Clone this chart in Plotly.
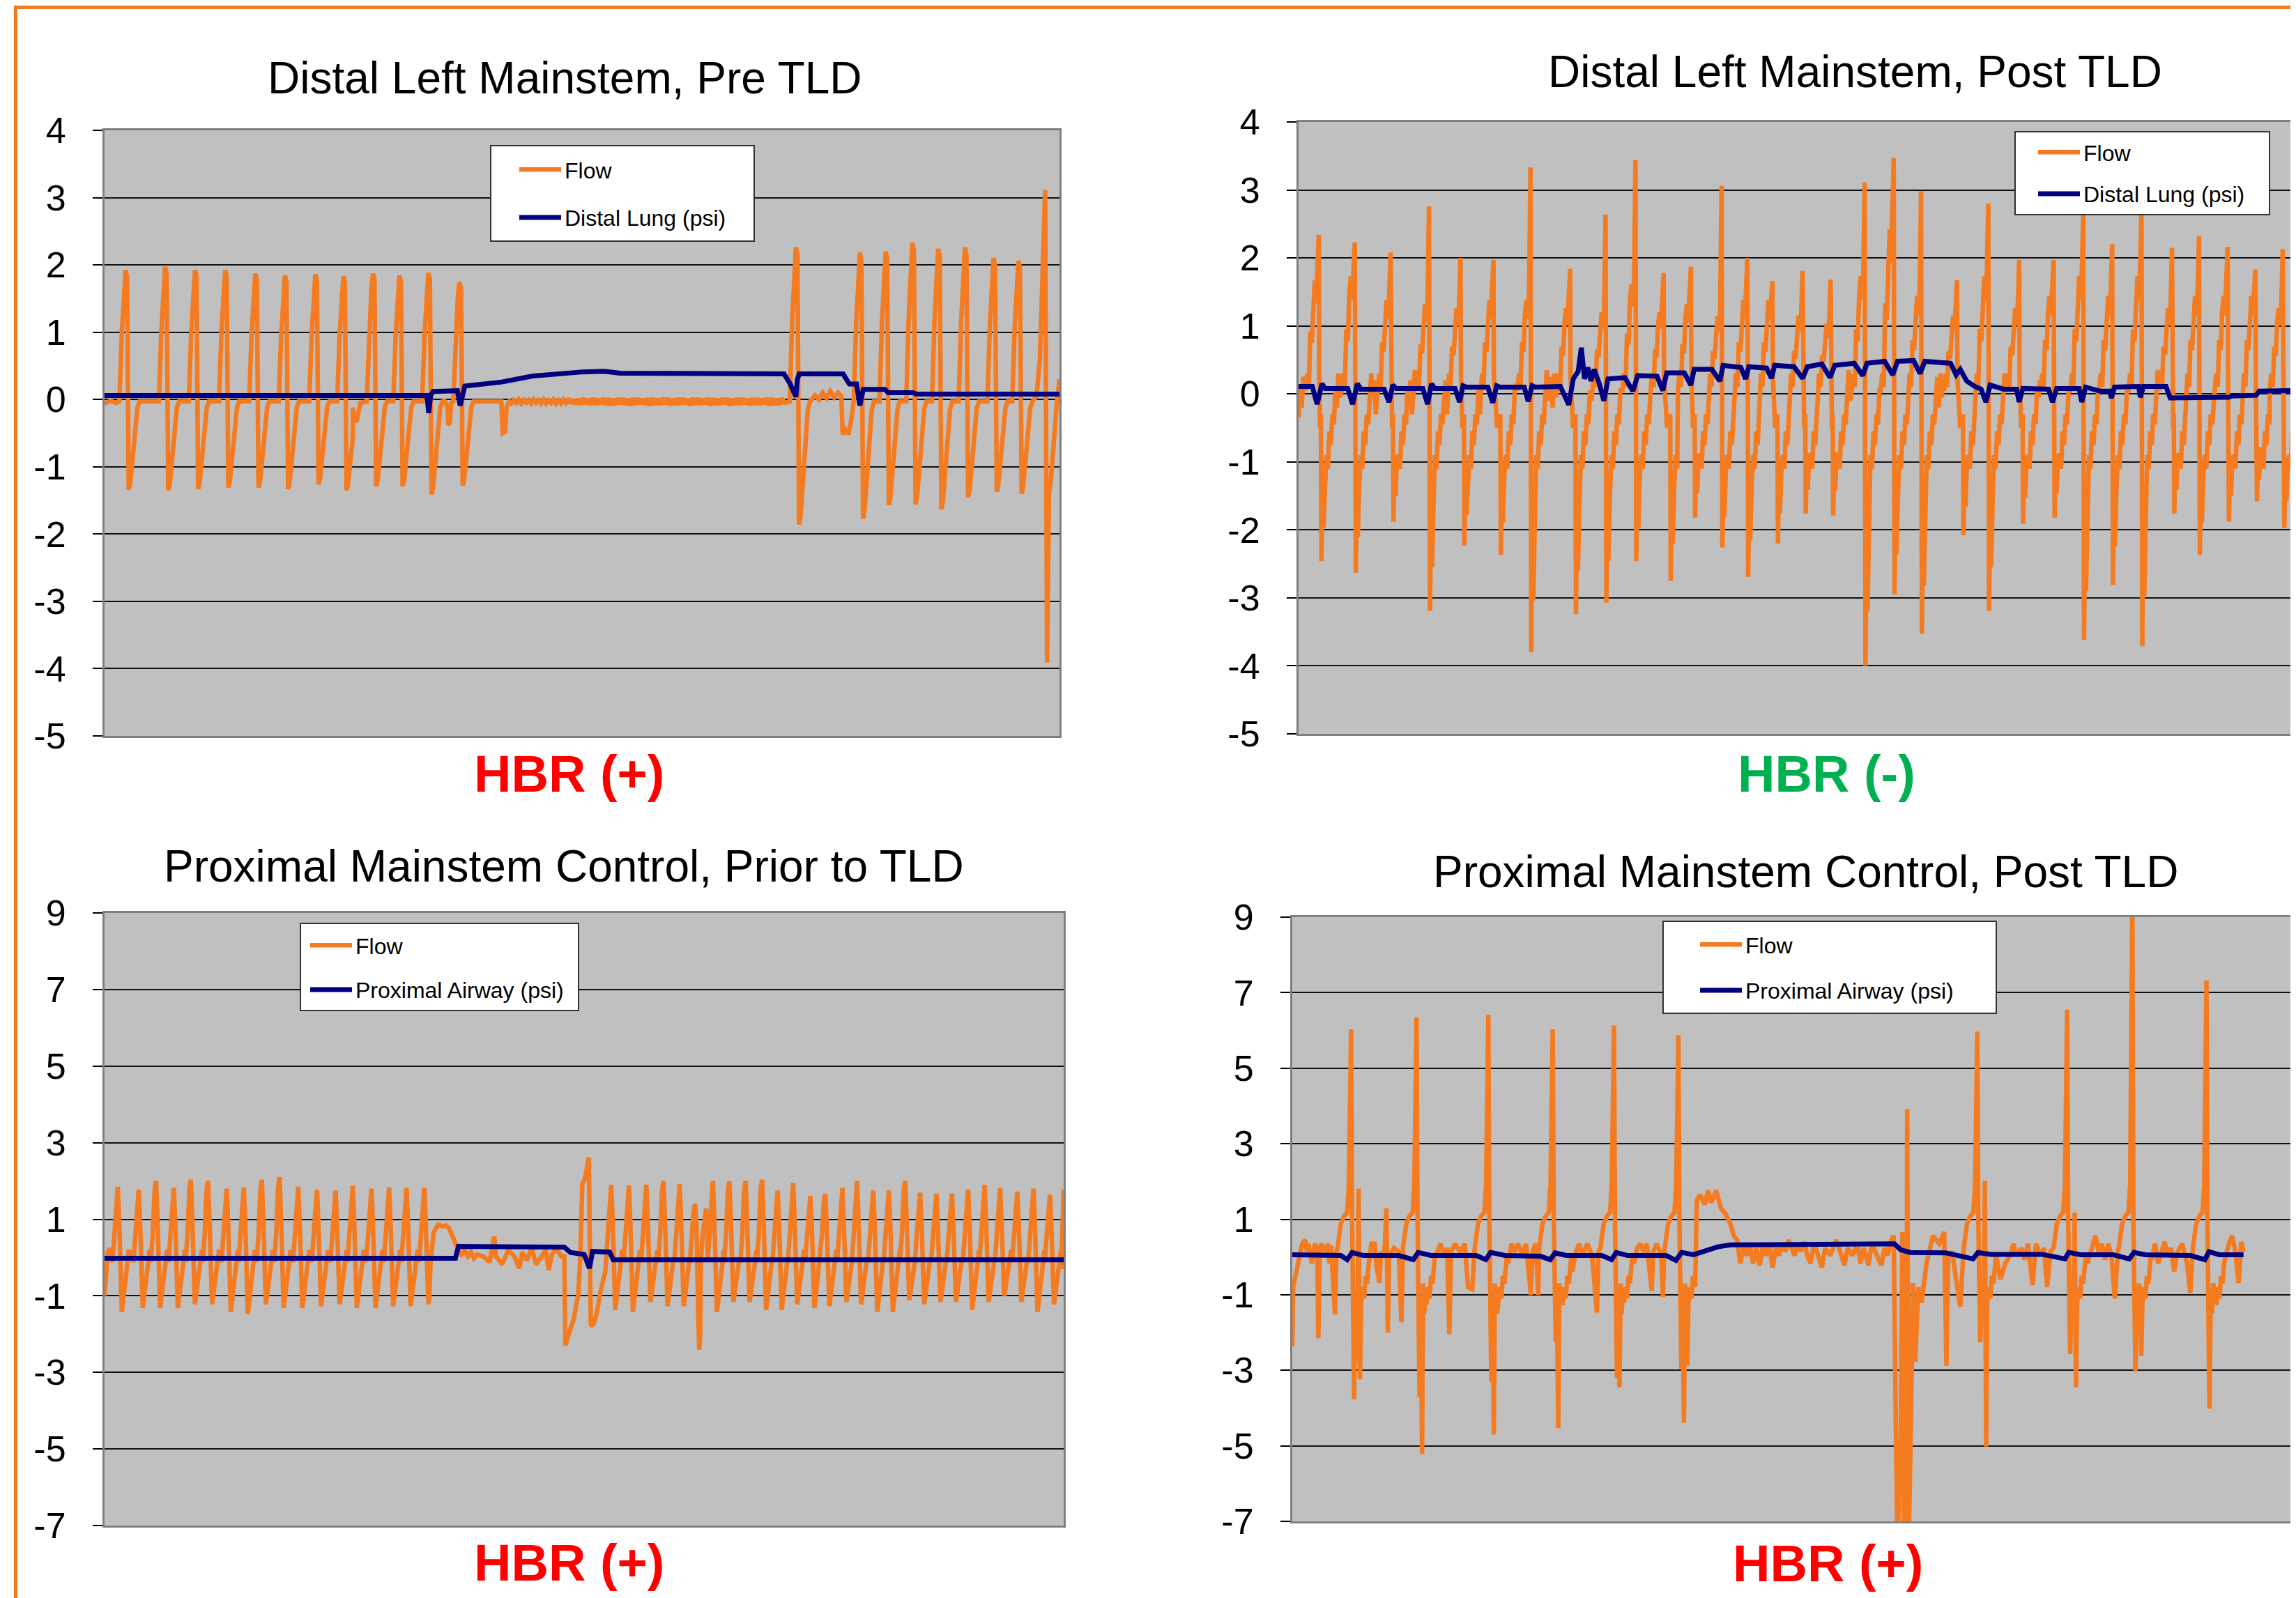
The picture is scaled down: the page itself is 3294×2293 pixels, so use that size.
import plotly.graph_objects as go

# page body keeps the browser's default 8 px margin, so the figure is drawn 8 px in
PAGE_W, PAGE_H = 3294, 2293
OFF = 8
W, H = PAGE_W - OFF, PAGE_H - OFF
FONT = "Liberation Sans, Arial, sans-serif"
FLOW_COLOR = "#F47B20"
PSI_COLOR = "#000080"
BG = "#C0C0C0"

# ---------------- Panel A: Distal Left Mainstem, Pre TLD ----------------
tl_peak_x = [2.20, 6.34, 9.47, 12.63, 15.79, 18.89, 22.08, 25.01, 28.11, 30.88, 33.91, 37.17,
             72.40, 79.10, 81.80, 84.60, 87.30, 90.10, 93.10, 95.70]
tl_peak_y = [1.92, 1.97, 1.92, 1.92, 1.87, 1.84, 1.86, 1.83, 1.87, 1.84, 1.88, 1.74,
             2.26, 2.18, 2.20, 2.33, 2.24, 2.26, 2.10, 2.06]
tl_trough_y = [-1.34, -1.35, -1.33, -1.31, -1.31, -1.33, -1.26, -1.35, -1.29, -1.29, -1.41, -1.28,
               -1.86, -1.77, -1.57, -1.56, -1.63, -1.45, -1.37, -1.40]
tl_start = [(0.0, -0.06), (0.6, -0.02), (1.2, -0.05)]
tl_dip1 = [(26.0, -0.12), (26.2, -0.30), (26.4, -0.33), (26.55, -0.20), (26.8, -0.05)]
tl_dip2 = [(35.6, -0.02), (35.9, -0.10), (36.0, -0.38), (36.15, -0.35), (36.3, -0.05)]
tl_pause = [(38.7, -0.03), (41.55, -0.03), (41.7, -0.50), (41.95, -0.48), (42.1, -0.10), (42.4, -0.03)]
tl_ripple_y = [-0.06, -0.01, -0.05, 0.0, -0.06, -0.01, -0.05, -0.01, -0.06, 0.0, -0.05, -0.01, -0.06, 0.0,
               -0.06, -0.01, -0.05, 0.0, -0.06, -0.01, -0.06, 0.0, -0.05, 0.01, -0.06, 0.0, -0.07, 0.01,
               -0.08, 0.02, -0.07, 0.01, -0.08, 0.02, -0.08, 0.01, -0.07, 0.02, -0.08, 0.02, -0.09, 0.01,
               -0.08, 0.02, -0.07, 0.02, -0.08, 0.01, -0.09, 0.02, -0.08, 0.02, -0.07, 0.01, -0.08, 0.02,
               -0.09, 0.02, -0.08, 0.01, -0.08, 0.02, -0.07, 0.02, -0.09, 0.01, -0.08, 0.02, -0.08, 0.02,
               -0.07, 0.01, -0.09, 0.02, -0.08, 0.02, -0.08, 0.01, -0.07, 0.02, -0.09, 0.02, -0.08, 0.01,
               -0.08, 0.02, -0.07, 0.02, -0.09, 0.01, -0.08, 0.02, -0.08, 0.02, -0.07, 0.01, -0.09, 0.02,
               -0.08, 0.02, -0.08, 0.01, -0.07, 0.02, -0.09, 0.02, -0.08, 0.01, -0.08, 0.02, -0.05]
tl_mid = [(74.4, 0.06), (74.8, 0.0), (75.2, 0.10), (75.6, 0.02), (76.0, 0.12), (76.4, 0.03), (76.8, 0.10),
          (77.15, 0.05), (77.3, -0.52), (77.6, -0.45), (77.9, -0.52), (78.2, -0.30)]
tl_end = [(97.6, 0.05), (97.95, 0.6), (98.25, 1.8), (98.5, 3.11), (98.7, -3.91), (98.9, -1.4),
          (99.1, -1.2), (99.4, -0.58), (99.7, -0.10), (100.0, 0.30)]
tl_psi = [(0, 0.06), (33.75, 0.06), (33.95, -0.20), (34.15, 0.06), (34.4, 0.12), (36.95, 0.13), (37.24, -0.09),
          (37.5, 0.10), (37.73, 0.20), (41.6, 0.26), (44.9, 0.35), (50.1, 0.41), (52.3, 0.42), (54.0, 0.39),
          (71.15, 0.38), (71.8, 0.23), (72.4, 0.04), (72.55, 0.30), (72.75, 0.38), (77.34, 0.38), (78.0, 0.23),
          (78.75, 0.23), (79.1, -0.09), (79.45, 0.15), (81.74, 0.15), (82.07, 0.10), (84.67, 0.10), (85.0, 0.08),
          (100, 0.08)]
tl_ticks = [-5, -4, -3, -2, -1, 0, 1, 2, 3, 4]

# ---------------- Panel B: Distal Left Mainstem, Post TLD ----------------
tr_peak_x = [2.03, 5.64, 9.23, 13.08, 16.24, 19.54, 23.25, 27.23, 30.78, 33.78, 36.60, 39.34, 42.41, 45.00,
             47.51, 50.53, 53.34, 56.76, 59.67, 62.41, 66.02, 69.15, 72.25, 75.70, 78.67, 81.57, 84.51, 87.57,
             90.28, 93.15, 95.93, 98.67]
tr_peak_y = [2.34, 2.23, 2.08, 2.76, 2.00, 1.97, 3.33, 1.84, 2.64, 3.44, 1.78, 1.87, 3.06, 2.00, 1.66, 1.81,
             1.68, 3.11, 3.47, 2.98, 1.67, 2.80, 1.97, 1.97, 2.63, 2.20, 2.63, 2.15, 2.32, 2.16, 1.83, 2.13]
tr_trough_y = [-2.46, -2.63, -1.88, -3.19, -2.23, -2.37, -3.80, -3.24, -3.07, -2.46, -2.75, -1.82, -2.26, -2.69,
               -2.20, -1.76, -1.79, -4.00, -2.95, -3.53, -2.08, -3.19, -1.91, -1.82, -3.62, -2.81, -3.71, -1.76,
               -2.37, -1.88, -1.58, -1.97]
tr_trough_lag = [0.26, 0.10, 0.29, 0.10, 0.39, 0.74, 0.03, 0.58, 0.06, 0.06, 0.71, 0.42, 0.03, 0.03, 0.55, 0.32,
                 0.26, 0.03, 0.06, 0.06, 0.64, 0.03, 0.39, 0.10, 0.03, 0.03, 0.03, 0.23, 0.03, 0.13, 0.16, 0.16]
tr_shoulder_y = [1.67, 1.73, 1.38, 1.32, 1.26, 1.38, 1.38, 1.26, 1.20, 1.61, 1.20, 1.32, 1.15, 1.38, 1.38, 1.15,
                 1.03, 1.73, 2.42, 1.44, 1.15, 1.73, 1.26, 1.44, 1.73, 1.44, 1.73, 1.26, 1.44, 1.44, 1.44, 1.26]
tr_start = [(0.0, -0.35), (0.15, 0.10), (0.3, -0.20), (0.5, 0.25)]
tr_gap_noise = [0.25, -0.20, 0.30, -0.05, 0.20, -0.30, 0.15, 0.35, -0.10, 0.05]
tr_psi = [(0, 0.11), (1.38, 0.11), (1.86, -0.15), (2.35, 0.15), (2.67, 0.08), (4.93, 0.08), (5.42, -0.15),
          (5.90, 0.15), (6.22, 0.07), (8.58, 0.07), (9.07, -0.12), (9.45, 0.13), (9.78, 0.08), (12.46, 0.08),
          (12.94, -0.15), (13.33, 0.15), (13.65, 0.08), (15.69, 0.08), (16.14, -0.12), (16.49, 0.12),
          (16.82, 0.10), (18.98, 0.10), (19.47, -0.13), (19.86, 0.12), (20.18, 0.10), (22.63, 0.10),
          (23.02, -0.11), (23.41, 0.12), (23.73, 0.10), (26.25, 0.11), (27.09, -0.16), (27.54, 0.22),
          (28.03, 0.33), (28.35, 0.68), (28.67, 0.22), (29.00, 0.39), (29.32, 0.19), (29.64, 0.36),
          (30.13, 0.16), (30.61, -0.10), (31.03, 0.22), (31.74, 0.23), (32.71, 0.24), (33.52, 0.04),
          (34.00, 0.27), (35.94, 0.26), (36.52, 0.05), (36.91, 0.31), (38.68, 0.31), (39.33, 0.13),
          (39.66, 0.36), (41.43, 0.36), (42.24, 0.19), (42.56, 0.42), (44.34, 0.39), (44.82, 0.22),
          (45.14, 0.40), (46.92, 0.38), (47.41, 0.23), (47.73, 0.42), (49.67, 0.40), (50.54, 0.23),
          (51.02, 0.40), (52.47, 0.44), (53.28, 0.24), (53.76, 0.42), (55.70, 0.45), (56.57, 0.27),
          (56.99, 0.45), (58.76, 0.48), (59.57, 0.28), (60.05, 0.48), (61.66, 0.49), (62.31, 0.30),
          (62.79, 0.48), (65.37, 0.45), (65.92, 0.28), (66.34, 0.36), (66.98, 0.19), (67.79, 0.11),
          (68.43, 0.07), (68.92, -0.12), (69.33, 0.13), (70.69, 0.07), (71.98, 0.07), (72.24, -0.12),
          (72.62, 0.08), (75.20, 0.07), (75.59, -0.12), (76.01, 0.08), (78.26, 0.08), (78.52, -0.12),
          (78.91, 0.10), (80.36, 0.04), (81.33, 0.04), (81.49, -0.06), (81.81, 0.10), (84.23, 0.11),
          (84.39, -0.05), (84.71, 0.11), (86.97, 0.11), (87.39, -0.06), (90.35, -0.06), (93.26, -0.05),
          (93.58, -0.03), (95.99, -0.02), (96.32, 0.04), (100, 0.05)]

# ---------------- Panel C: Proximal Mainstem Control, Prior to TLD ----------------
bl_peak_x = [1.38, 3.56, 5.37, 7.22, 9.00, 10.79, 12.74, 14.52, 16.40, 18.25, 20.20, 22.15, 24.09, 25.88,
             27.83, 29.67, 31.49, 33.34,
             52.83, 54.67, 56.49, 58.28, 59.96, 61.58, 62.72, 63.43, 65.15, 66.84, 68.56, 70.18, 71.80,
             73.59, 75.15, 76.93, 78.46, 80.15, 81.77, 83.48, 85.04, 86.73, 88.35, 90.04, 91.76, 93.38,
             95.17, 96.85, 98.57]
bl_peak_y = [1.85, 1.77, 2.00, 1.82, 2.03, 2.00, 1.80, 1.83, 2.03, 2.10, 1.85, 1.77, 1.75, 1.87, 1.80, 1.83,
             1.82, 1.82,
             1.90, 1.88, 1.90, 2.00, 1.92, 1.40, 1.28, 2.00, 1.99, 2.00, 2.03, 1.75, 1.95, 1.61, 1.66, 1.82,
             2.00, 1.75, 1.75, 2.00, 1.69, 1.67, 1.67, 1.78, 1.90, 1.82, 1.72, 1.80, 1.64]
bl_trough_y = [-1.42, -1.32, -1.32, -1.32, -1.22, -1.22, -1.42, -1.48, -1.22, -1.32, -1.32, -1.27, -1.22,
               -1.32, -1.32, -1.27, -1.27, -1.22,
               -1.37, -1.42, -1.16, -1.27, -1.27, -2.41, -0.80, -1.42, -1.16, -1.16, -1.37, -1.37, -1.22,
               -1.32, -1.27, -1.16, -1.22, -1.42, -1.42, -1.11, -1.22, -1.16, -1.16, -1.37, -1.16, -1.00,
               -1.16, -1.42, -1.22]
bl_start = [(0.0, -1.0), (0.15, -0.3), (0.35, 0.14), (0.55, 0.24), (0.75, -0.05)]
bl_hump = [(33.98, -0.18), (34.31, 0.65), (34.79, 0.86), (35.28, 0.81), (35.6, 0.84), (35.93, 0.76),
           (36.26, 0.55), (36.58, 0.34), (36.9, 0.19)]
bl_noise = [(37.23, 0.08), (37.55, 0.19), (37.88, 0.03), (38.2, 0.14), (38.52, -0.02), (38.85, 0.08),
            (39.5, 0.03), (40.15, -0.12), (40.63, 0.55), (40.8, 0.03), (41.28, -0.12), (41.44, -0.18),
            (42.09, 0.19), (42.74, 0.03), (43.23, -0.28), (43.55, 0.14), (44.04, -0.07), (44.53, 0.24),
            (45.01, -0.18), (45.5, 0.03), (45.99, 0.19), (46.31, -0.33), (46.64, 0.08), (47.12, 0.24),
            (47.61, 0.03), (47.93, 0.03)]
bl_event = [(48.05, -2.3), (48.4, -2.0), (48.9, -1.63), (49.4, -0.95), (49.6, 0.0), (49.81, 1.9),
            (50.13, 2.1), (50.49, 2.61), (50.7, -1.79), (51.0, -1.74), (51.35, -1.42), (51.7, -0.9),
            (52.2, -0.38)]
bl_end = [(99.75, -0.3), (100.0, 1.78)]
bl_psi = [(0, -0.02), (36.58, -0.02), (36.9, 0.29), (47.93, 0.27), (48.58, 0.13), (50.0, 0.08),
          (50.56, -0.28), (50.88, 0.16), (52.66, 0.14), (53.05, -0.06), (100, -0.06)]
bl_ticks = [-7, -5, -3, -1, 1, 3, 5, 7, 9]

# ---------------- Panel D: Proximal Mainstem Control, Post TLD ----------------
br_peak_x = [5.86, 12.38, 19.53, 25.95, 32.05, 38.47, 68.25, 77.20, 83.70, 91.08]
br_peak_y = [6.03, 6.34, 6.41, 6.03, 6.13, 5.87, 5.97, 6.55, 9.40, 7.33]
br_trough_y = [-3.77, -3.71, -3.30, -2.25, -3.20, -2.98, -2.26, -2.57, -3.04, -4.02]
br_trough2_y = [-2.78, -5.22, -4.70, -4.53, -3.45, -4.39, -1.00, -1.00, -1.50, -1.50]
br_spike_y = [1.81, -1.50, -1.00, -1.00, -1.50, -2.00, 2.02, 1.18, -0.90, -0.80]
br_trough3_y = [-3.24, -1.21, -1.50, -1.20, -1.00, -2.88, -5.02, -3.45, -2.62, -1.20]
br_gaps = [
    [(0.0, -2.36), (0.08, -0.8), (0.34, -0.48), (0.66, -0.07), (0.98, 0.35), (1.3, 0.45), (1.46, 0.14),
     (1.62, 0.35), (1.94, -0.17), (2.26, 0.35), (2.5, 0.2), (2.59, -2.15), (2.75, 0.24), (2.91, 0.35),
     (3.23, 0.14), (3.55, 0.35), (3.71, -0.17), (3.87, 0.3), (4.25, -1.52), (4.4, 0.14)],
    [(7.72, 0.04), (7.88, 0.35), (8.2, 0.35), (8.36, -0.17), (8.68, -0.69), (8.84, 0.14), (9.17, 0.04),
     (9.38, 1.29), (9.52, -2.0), (9.65, 0.04), (10.13, 0.24), (10.61, 0.14), (10.87, -1.73), (10.99, 0.04)],
    [(14.24, 0.04), (14.46, 0.14), (14.78, 0.35), (15.1, 0.04), (15.43, 0.24), (15.65, -2.05), (15.81, 0.14),
     (16.23, 0.35), (16.71, 0.14), (17.19, 0.35), (17.51, -0.8), (17.93, -0.85), (18.1, 0.04)],
    [(21.52, -0.17), (21.84, 0.35), (22.17, 0.14), (22.49, 0.35), (22.97, 0.04), (23.29, 0.35),
     (23.77, -1.0), (23.93, 0.14), (24.25, 0.35), (24.5, -1.0)],
    [(27.9, -0.38), (28.27, 0.14), (28.59, 0.35), (28.91, 0.04), (29.39, 0.35), (29.87, 0.04),
     (30.35, -1.47), (30.51, 0.14)],
    [(34.04, -0.17), (34.36, 0.24), (34.68, 0.35), (35.0, 0.14), (35.33, 0.35), (35.81, -0.9), (35.97, 0.14),
     (36.29, 0.35), (36.77, 0.04), (36.93, -1.06), (37.05, 0.14)],
    [(40.14, -0.8), (40.3, 1.5), (40.62, 1.65), (41.1, 1.39), (41.43, 1.76), (41.75, 1.44), (42.23, 1.76),
     (42.71, 1.29), (43.19, 1.13), (43.67, 0.87), (43.99, 0.56), (44.32, 0.45), (44.64, -0.17), (44.96, 0.24),
     (45.28, 0.04), (45.6, 0.35), (45.92, -0.17), (46.24, 0.24), (46.56, -0.22), (46.88, 0.24), (47.2, 0.04),
     (47.53, 0.35), (47.85, -0.28), (48.17, 0.24), (48.49, 0.04), (48.81, 0.35), (49.13, 0.14), (49.45, 0.45),
     (50.04, 0.04), (50.36, 0.35), (50.68, 0.14), (51.0, 0.4), (51.32, 0.04), (51.64, -0.17), (51.96, 0.35),
     (52.28, 0.14), (52.77, -0.28), (53.09, 0.24), (53.57, 0.04), (54.21, 0.45), (54.53, 0.14),
     (55.01, -0.22), (55.33, 0.24), (55.81, 0.04), (56.29, 0.35), (56.61, -0.17), (56.93, 0.24),
     (57.41, -0.22), (57.74, 0.35), (58.22, 0.04), (58.7, -0.22), (59.02, 0.24), (59.34, 0.04),
     (59.66, 0.45), (59.92, 0.56)],
    [(60.14, -4.65), (60.3, -7.6), (60.62, -4.86), (60.78, 0.66), (60.94, -7.6), (61.2, -7.6), (61.26, 3.91),
     (61.42, -7.6), (61.65, -4.13), (61.84, -0.69), (62.06, -2.77), (62.38, -0.8), (62.7, -1.21),
     (63.19, -0.17), (63.83, 0.56), (64.47, 0.35), (64.95, 0.66), (65.17, -2.88), (65.36, 0.04),
     (65.75, 0.14), (66.07, -0.48), (66.55, -1.32), (66.85, 0.04)],
    [(70.56, -0.59), (71.04, -0.17), (71.52, 0.04), (71.84, 0.35), (72.16, 0.04), (72.64, 0.24),
     (72.96, -0.07), (73.28, 0.35), (73.76, -0.74), (74.09, 0.35), (74.57, 0.04), (74.89, 0.24),
     (75.21, -0.8), (75.53, 0.14)],
    [(79.22, -0.17), (79.7, 0.24), (80.02, 0.56), (80.34, 0.14), (80.66, 0.35), (80.98, -0.07), (81.3, 0.35),
     (81.62, 0.04), (81.94, -1.1), (82.26, 0.14)],
    [(85.63, -0.07), (85.95, 0.35), (86.27, -0.17), (86.59, 0.14), (86.91, 0.4), (87.23, 0.04), (87.55, 0.24),
     (87.87, -0.38), (88.19, 0.14), (88.67, 0.35), (89.15, -0.17), (89.47, -0.95), (89.65, 0.04)],
    [(93.0, 0.04), (93.32, 0.35), (93.64, 0.56), (93.96, 0.14), (94.28, -0.69), (94.54, 0.4), (94.77, 0.14)],
]
br_psi = [(0, 0.06), (4.83, 0.04), (5.47, -0.07), (5.96, 0.12), (7.08, 0.04), (10.61, 0.04), (12.05, -0.07),
          (12.54, 0.12), (13.82, 0.04), (18.31, 0.04), (19.28, -0.07), (19.76, 0.12), (21.2, 0.04),
          (24.73, 0.02), (25.7, -0.07), (26.18, 0.11), (27.3, 0.04), (30.83, 0.04), (31.8, -0.07),
          (32.28, 0.12), (33.4, 0.04), (37.25, 0.04), (38.22, -0.09), (38.79, 0.12), (39.98, 0.06),
          (41.1, 0.16), (42.39, 0.27), (43.67, 0.32), (49.71, 0.33), (59.98, 0.35), (60.62, 0.19),
          (61.58, 0.12), (65.11, 0.11), (66.39, 0.04), (67.83, -0.05), (68.31, 0.12), (69.6, 0.07),
          (74.73, 0.07), (76.33, -0.02), (76.97, -0.05), (77.36, 0.12), (78.57, 0.06), (81.78, 0.06),
          (83.38, -0.05), (83.86, 0.12), (84.99, 0.06), (89.47, 0.04), (90.92, -0.07), (91.33, 0.14),
          (92.36, 0.06), (94.77, 0.06)]


# ---------------- assembly helpers ----------------
def assemble(segments):
    segs = [list(s) for s in segments if len(s)]
    segs.sort(key=lambda s: s[0][0])
    xs, ys = [], []
    for seg in segs:
        x0 = seg[0][0]
        while xs and xs[-1] >= x0:
            xs.pop()
            ys.pop()
        for x, y in seg:
            xs.append(round(float(x), 3))
            ys.append(round(float(y), 3))
    return xs, ys


def tl_breath(p, h, d):
    offs = [-0.65, -0.39, -0.16, 0.0, 0.16, 0.26, 0.33, 0.49, 0.72, 0.98, 1.24, 1.47]
    vals = [-0.03, 0.52 * h, 0.9 * h, h, 0.95 * h, 0.0, d, 0.93 * d, 0.7 * d, 0.43 * d, 0.09 * d, -0.03]
    return [(p + o, v) for o, v in zip(offs, vals)]


def tr_breath(p, h, d, s, lag):
    pre = [(-1.3, 0.05), (-1.15, 0.3), (-1.0, 0.1), (-0.85, 0.55 * s), (-0.7, 0.45 * s), (-0.55, 0.85 * s),
           (-0.4, s), (-0.28, 0.8 * s), (-0.14, 1.05 * s), (0.0, h), (0.04, 0.2 * s)]
    t = max(lag, 0.08)
    post = []
    if t > 0.2:
        post += [(0.5 * t, -0.5), (t - 0.05, -0.3)]
    post += [(t, d), (t + 0.1, 0.55 * d), (t + 0.2, 0.8 * d), (t + 0.35, 0.5 * d), (t + 0.5, -0.9),
             (t + 0.65, -1.1), (t + 0.8, -0.55), (t + 0.95, -0.75), (t + 1.1, -0.3), (t + 1.25, -0.45),
             (t + 1.4, 0.05)]
    return [(p + o, v) for o, v in pre + post]


def bl_breath(p, h, d):
    offs = [-0.55, -0.35, -0.15, 0.0, 0.15, 0.3, 0.42, 0.52, 0.65, 0.85, 1.05, 1.15]
    vals = [-0.12, 0.6, 0.88 * h, h, 0.5 * h, 0.5 * d, d, 0.85 * d, 0.6 * d, 0.35 * d, 0.0, 0.2]
    return [(p + o, v) for o, v in zip(offs, vals)]


def br_breath(p, h, d, a, u, d2):
    pts = [(-1.35, 0.24), (-1.03, 0.87), (-0.71, 1.08), (-0.39, 1.18), (-0.22, 1.91), (-0.06, 0.8 * h),
           (0.0, h), (0.1, 1.0), (0.3, d), (0.42, -1.2), (0.55, a), (0.66, -0.7), (0.75, u), (0.88, d2),
           (1.0, -1.21), (1.16, -0.8), (1.3, -1.1), (1.45, -0.5), (1.6, -0.7), (1.75, -0.2), (1.86, 0.04)]
    return [(p + o, v) for o, v in pts]


# Panel A flow
segs = [tl_start, tl_dip1, tl_dip2, tl_pause, tl_mid, tl_end]
segs += [tl_breath(p, h, d) for p, h, d in zip(tl_peak_x, tl_peak_y, tl_trough_y)]
segs.append([(42.6 + 0.26 * i, v) for i, v in enumerate(tl_ripple_y)])
tl_fx, tl_fy = assemble(segs)

# Panel B flow
segs = [tr_start]
for i in range(len(tr_peak_x)):
    segs.append(tr_breath(tr_peak_x[i], tr_peak_y[i], tr_trough_y[i], tr_shoulder_y[i], tr_trough_lag[i]))
    if i + 1 < len(tr_peak_x):
        g0 = tr_peak_x[i] + max(tr_trough_lag[i], 0.08) + 1.4
        g1 = tr_peak_x[i + 1] - 1.3
        k, gap = 1, []
        while g0 + 0.15 * k < g1 - 0.05:
            gap.append((g0 + 0.15 * k, tr_gap_noise[(k + i) % len(tr_gap_noise)]))
            k += 1
        if gap:
            segs.append(gap)
tr_fx, tr_fy = assemble(segs)

# Panel C flow
segs = [bl_start, bl_hump, bl_noise, bl_event, bl_end]
segs += [bl_breath(p, h, d) for p, h, d in zip(bl_peak_x, bl_peak_y, bl_trough_y)]
bl_fx, bl_fy = assemble(segs)

# Panel D flow
segs = list(br_gaps)
segs += [br_breath(*v) for v in zip(br_peak_x, br_peak_y, br_trough_y, br_trough2_y, br_spike_y, br_trough3_y)]
br_fx, br_fy = assemble(segs)


def unzip(pairs):
    return [p[0] for p in pairs], [p[1] for p in pairs]


def px(x):
    return (x - OFF) / W


def py(y):
    return 1 - (y - OFF) / H


panels = [
    dict(n="", flow=(tl_fx, tl_fy), psi=unzip(tl_psi), psi_name="Distal Lung (psi)",
         xd=(150, 1520), yd=(187, 1056), yr=(-5, 4), ticks=tl_ticks, right_open=False,
         legend=dict(x=740, y=216, gap=24), box=(704, 209, 1082, 346)),
    dict(n="2", flow=(tr_fx, tr_fy), psi=unzip(tr_psi), psi_name="Distal Lung (psi)",
         xd=(1863, PAGE_W), yd=(175, 1053), yr=(-5, 4), ticks=tl_ticks, right_open=True,
         legend=dict(x=2919, y=191, gap=15), box=(2891, 189, 3256, 308)),
    dict(n="3", flow=(bl_fx, bl_fy), psi=unzip(bl_psi), psi_name="Proximal Airway (psi)",
         xd=(150, 1526), yd=(1310, 2189), yr=(-7, 9), ticks=bl_ticks, right_open=False,
         legend=dict(x=440, y=1329, gap=19), box=(431, 1325, 830, 1450)),
    dict(n="4", flow=(br_fx, br_fy), psi=unzip(br_psi), psi_name="Proximal Airway (psi)",
         xd=(1854, PAGE_W), yd=(1316, 2183), yr=(-7, 9), ticks=bl_ticks, right_open=True,
         legend=dict(x=2434, y=1328, gap=21), box=(2386, 1322, 2864, 1454)),
]

fig = go.Figure()
layout = dict(
    width=W, height=H, autosize=False,
    margin=dict(l=0, r=0, t=0, b=0, pad=0, autoexpand=False),
    paper_bgcolor="white", plot_bgcolor=BG, showlegend=True,
    font=dict(family=FONT, color="black"),
)
shapes = []
for i, pn in enumerate(panels):
    n = pn["n"]
    lg = "legend" + n
    xa, ya = "x" + n, "y" + n
    fig.add_trace(go.Scatter(x=pn["flow"][0], y=pn["flow"][1], mode="lines", name="Flow",
                             line=dict(color=FLOW_COLOR, width=6.5), xaxis=xa, yaxis=ya,
                             legend=lg, legendgroup="f" + str(i), hoverinfo="skip"))
    fig.add_trace(go.Scatter(x=pn["psi"][0], y=pn["psi"][1], mode="lines", name=pn["psi_name"],
                             line=dict(color=PSI_COLOR, width=7), xaxis=xa, yaxis=ya,
                             legend=lg, legendgroup="p" + str(i), hoverinfo="skip"))
    layout["xaxis" + n] = dict(domain=[px(pn["xd"][0]), min(1.0, px(pn["xd"][1]))], anchor=ya, range=[0, 100],
                               showgrid=False, zeroline=False, showticklabels=False, ticks="",
                               showline=True, mirror=True, linecolor="#808080", linewidth=3,
                               fixedrange=True, automargin=False)
    layout["yaxis" + n] = dict(domain=[py(pn["yd"][1]), py(pn["yd"][0])], anchor=xa, range=list(pn["yr"]),
                               tickvals=pn["ticks"], ticktext=[str(t) for t in pn["ticks"]],
                               showgrid=True, gridcolor="#111111", gridwidth=1.5, zeroline=False,
                               showline=True, mirror=not pn["right_open"], linecolor="#808080", linewidth=3,
                               ticks="outside", ticklen=14, tickwidth=2, tickcolor="#000000",
                               ticklabelstandoff=28, automargin=False,
                               tickfont=dict(family=FONT, size=52, color="black"), fixedrange=True)
    L = pn["legend"]
    layout[lg] = dict(x=px(L["x"]), y=py(L["y"]), xanchor="left", yanchor="top",
                      bgcolor="rgba(0,0,0,0)", borderwidth=0, itemwidth=60,
                      tracegroupgap=L["gap"], traceorder="grouped",
                      font=dict(family=FONT, size=32, color="black"))
    b = pn["box"]
    shapes.append(dict(type="rect", xref="paper", yref="paper", x0=px(b[0]), x1=px(b[2]),
                       y0=py(b[3]), y1=py(b[1]), fillcolor="white", line=dict(color="#333333", width=2),
                       layer="above"))

# orange frame
shapes.append(dict(type="rect", xref="paper", yref="paper", x0=px(22.5), x1=1.05, y0=-0.05, y1=py(10.5),
                   line=dict(color="#F07D22", width=5), fillcolor="rgba(0,0,0,0)", layer="above"))

titles = [
    ("Distal Left Mainstem, Pre TLD", 810, 112),
    ("Distal Left Mainstem, Post TLD", 2661, 103),
    ("Proximal Mainstem Control, Prior to TLD", 809, 1243),
    ("Proximal Mainstem Control, Post TLD", 2590, 1251),
]
hbr = [
    ("HBR (+)", "#FF0000", 816, 1110),
    ("HBR (-)", "#00B050", 2620, 1111),
    ("HBR (+)", "#FF0000", 816, 2242),
    ("HBR (+)", "#FF0000", 2622, 2243),
]
annotations = []
for t, x, y in titles:
    annotations.append(dict(text=t, xref="paper", yref="paper", x=px(x), y=py(y), xanchor="center",
                            yanchor="middle", showarrow=False, font=dict(family=FONT, size=64, color="black")))
for t, c, x, y in hbr:
    annotations.append(dict(text="<b>" + t + "</b>", xref="paper", yref="paper", x=px(x), y=py(y),
                            xanchor="center", yanchor="middle", showarrow=False,
                            font=dict(family=FONT, size=74, color=c)))
layout["shapes"] = shapes
layout["annotations"] = annotations
fig.update_layout(**layout)
fig.write_html("out.html")
